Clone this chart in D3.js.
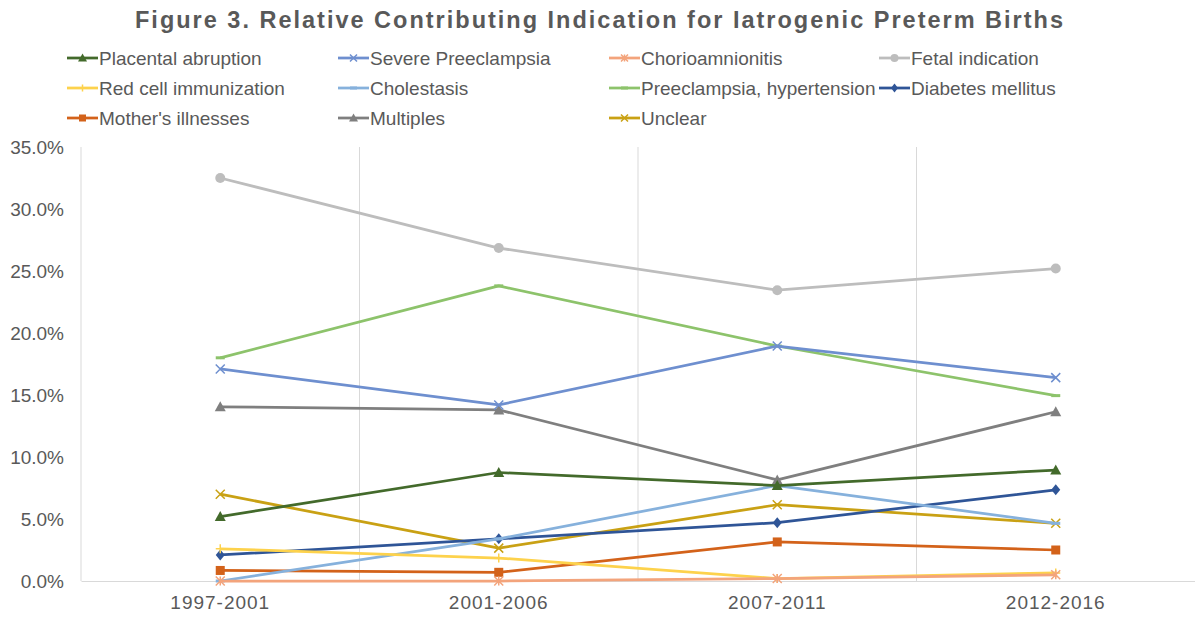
<!DOCTYPE html>
<html>
<head>
<meta charset="utf-8">
<script src="https://cdn.jsdelivr.net/npm/d3@7"></script>
<style>
html,body{margin:0;padding:0;background:#fff;}
svg{display:block;font-family:"Liberation Sans",Arial,sans-serif;}
</style>
</head>
<body>
<svg id="chart" width="1195" height="618"></svg>
<script>
const categories = ["1997-2001", "2001-2006", "2007-2011", "2012-2016"];
const seriesNames = ["Placental abruption", "Severe Preeclampsia", "Chorioamnionitis", "Fetal indication",
  "Red cell immunization", "Cholestasis", "Preeclampsia, hypertension", "Diabetes mellitus",
  "Mother's illnesses", "Multiples", "Unclear"];
const placentalAbruption = [5.2, 8.75, 7.7, 8.95];
const severePreeclampsia = [17.1, 14.2, 18.95, 16.4];
const chorioamnionitis = [0.0, 0.0, 0.2, 0.5];
const fetalIndication = [32.5, 26.85, 23.45, 25.2];
const redCellImmunization = [2.6, 1.85, 0.2, 0.65];
const cholestasis = [0.0, 3.4, 7.7, 4.65];
const preeclampsiaHypertension = [18.0, 23.8, 18.95, 14.95];
const diabetesMellitus = [2.1, 3.4, 4.7, 7.35];
const mothersIllnesses = [0.85, 0.7, 3.15, 2.5];
const multiples = [14.05, 13.8, 8.15, 13.65];
const unclear = [7.0, 2.65, 6.15, 4.65];
const yTicks = [0, 5, 10, 15, 20, 25, 30, 35];
const titleText = "Figure 3. Relative Contributing Indication for Iatrogenic Preterm Births";

const seriesValues = [placentalAbruption, severePreeclampsia, chorioamnionitis, fetalIndication,
  redCellImmunization, cholestasis, preeclampsiaHypertension, diabetesMellitus,
  mothersIllnesses, multiples, unclear];
const colors = ["#436a2b", "#6e8fcf", "#f3a47c", "#bdbdbd", "#fdd24c", "#86b1dc", "#8dc36b",
  "#2f5597", "#d3621a", "#7f7f7f", "#c9a114"];
const markers = ["triangle", "x", "asterisk", "circle", "plus", "dash", "dash", "diamond", "square", "triangle", "x"];

const svg = d3.select("#chart");
const margin = {left: 81, right: 0, top: 147, bottom: 37};
const W = 1195, H = 618;
const x = d3.scaleBand().domain(categories).range([margin.left, W - margin.right]);
const y = d3.scaleLinear().domain([0, 35]).range([H - margin.bottom, margin.top]);

// title
svg.append("text").attr("x", 599).attr("y", 28).attr("text-anchor", "middle")
  .attr("font-size", 23.5).attr("font-weight", "bold").attr("fill", "#595959")
  .attr("textLength", 928).attr("lengthAdjust", "spacing")
  .text(titleText);

// vertical grid lines at band boundaries
const bounds = categories.map(c => x(c));
svg.append("g").selectAll("line").data(bounds).join("line")
  .attr("x1", d => d).attr("x2", d => d)
  .attr("y1", y(35)).attr("y2", y(0))
  .attr("stroke", "#d9d9d9").attr("stroke-width", 1);

// x axis
const xAxis = svg.append("g").attr("transform", `translate(0,${y(0)})`)
  .call(d3.axisBottom(x).tickSize(0).tickPadding(15));
xAxis.select(".domain").attr("stroke", "#d9d9d9");
xAxis.selectAll("text").attr("font-size", 19).attr("fill", "#595959")
  .attr("font-family", "Liberation Sans, Arial, sans-serif").attr("letter-spacing", "1px");

// y axis labels
const yAxis = svg.append("g").attr("transform", `translate(${margin.left},0)`)
  .call(d3.axisLeft(y).tickValues(yTicks).tickSize(0).tickPadding(17).tickFormat(d => d.toFixed(1) + "%"));
yAxis.select(".domain").remove();
yAxis.selectAll("text").attr("font-size", 19).attr("fill", "#595959")
  .attr("font-family", "Liberation Sans, Arial, sans-serif");

function drawMarker(g, type, color, cx, cy, s) {
  const h = s / 2;
  if (type === "triangle") {
    g.append("path").attr("d", `M${cx},${cy - h - 1}L${cx + h + 1},${cy + h}L${cx - h - 1},${cy + h}Z`).attr("fill", color);
  } else if (type === "circle") {
    g.append("circle").attr("cx", cx).attr("cy", cy).attr("r", h + 0.5).attr("fill", color);
  } else if (type === "square") {
    g.append("rect").attr("x", cx - h).attr("y", cy - h).attr("width", s).attr("height", s).attr("fill", color);
  } else if (type === "diamond") {
    g.append("path").attr("d", `M${cx},${cy - h - 1}L${cx + h},${cy}L${cx},${cy + h + 1}L${cx - h},${cy}Z`).attr("fill", color);
  } else if (type === "x") {
    g.append("path").attr("d", `M${cx - h},${cy - h}L${cx + h},${cy + h}M${cx - h},${cy + h}L${cx + h},${cy - h}`)
      .attr("stroke", color).attr("stroke-width", 1.5).attr("fill", "none");
  } else if (type === "asterisk") {
    g.append("path").attr("d", `M${cx - h},${cy - h}L${cx + h},${cy + h}M${cx - h},${cy + h}L${cx + h},${cy - h}M${cx},${cy - h}L${cx},${cy + h}`)
      .attr("stroke", color).attr("stroke-width", 1.5).attr("fill", "none");
  } else if (type === "plus") {
    g.append("path").attr("d", `M${cx - h},${cy}L${cx + h},${cy}M${cx},${cy - h}L${cx},${cy + h}`)
      .attr("stroke", color).attr("stroke-width", 1.5).attr("fill", "none");
  } else if (type === "dash") {
    g.append("path").attr("d", `M${cx - h},${cy}L${cx + h},${cy}`)
      .attr("stroke", color).attr("stroke-width", 3).attr("fill", "none");
  }
}

// series (draw in reverse so the first series are on top)
const line = d3.line().x((d, i) => x(categories[i]) + x.bandwidth() / 2).y(d => y(d));
const plot = svg.append("g");
for (let k = seriesValues.length - 1; k >= 0; k--) {
  const g = plot.append("g");
  g.append("path").datum(seriesValues[k]).attr("d", line)
    .attr("fill", "none").attr("stroke", colors[k]).attr("stroke-width", 2.75)
    .attr("stroke-linejoin", "round");
  seriesValues[k].forEach((v, i) => {
    drawMarker(g, markers[k], colors[k], x(categories[i]) + x.bandwidth() / 2, y(v), 9);
  });
}

// legend
const legCols = [67, 338, 609, 879];
const legRows = [58, 88, 118];
const legend = svg.append("g");
seriesNames.forEach((name, k) => {
  const col = k % 4, row = Math.floor(k / 4);
  const lx = legCols[col], ly = legRows[row];
  const g = legend.append("g");
  g.append("line").attr("x1", lx).attr("x2", lx + 31).attr("y1", ly).attr("y2", ly)
    .attr("stroke", colors[k]).attr("stroke-width", 2.75);
  drawMarker(g, markers[k], colors[k], lx + 15.5, ly, 7);
  g.append("text").attr("x", lx + 32).attr("y", ly + 6.5).attr("font-size", 19)
    .attr("fill", "#595959").text(name);
});
</script>
</body>
</html>
